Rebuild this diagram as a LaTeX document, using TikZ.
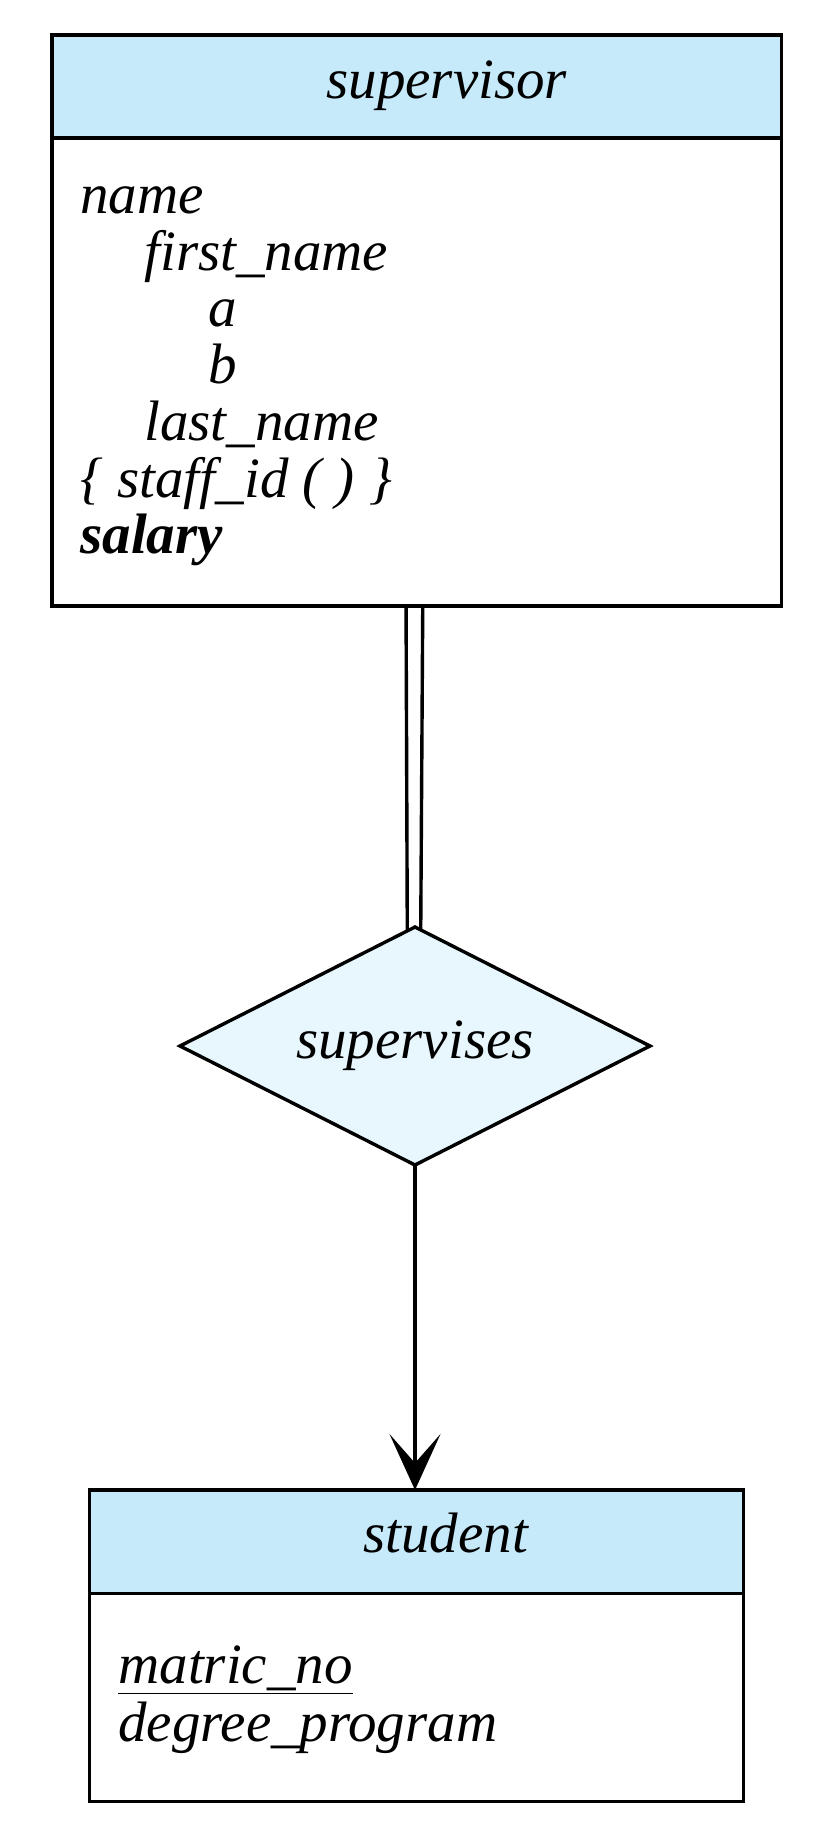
\documentclass[tikz,border=0pt]{standalone}
\usepackage{fontspec}
\setmainfont{Liberation Serif}
\usetikzlibrary{shapes.geometric,arrows.meta,calc,backgrounds}
\definecolor{hdrblue}{RGB}{198,234,250}
\definecolor{relblue}{RGB}{232,247,254}
\tikzset{
  box/.style={draw,line width=1.7pt,inner sep=0pt,outer sep=0pt},
  hdr/.style={box,fill=hdrblue},
  body/.style={box,fill=white},
  attr/.style={anchor=base west,inner sep=0pt,font=\fontsize{28.5}{34}\selectfont\itshape},
  ttl/.style={anchor=base,inner sep=0pt,font=\fontsize{28.5}{34}\selectfont\itshape},
}
\begin{document}
\begin{tikzpicture}[x=0.5pt,y=-0.5pt]
\useasboundingbox (0,0) rectangle (829,1833);
% supervisor
\node[hdr,minimum width=364.75pt,minimum height=51.5pt] (suphead) at (416.75,86.5) {};
\node[body,minimum width=364.75pt,minimum height=234pt,anchor=north] (supbody) at (suphead.south) {};
\node[ttl] (suptitle) at (446.7,98) {supervisor};
\foreach \l/\t [count=\i from 0] in {0/name,1/first\_name,2/a,2/b,1/last\_name,0/{\{ staff\_id ( ) \}},0/{\bfseries salary}}
  \node[attr] (att\i) at (80+64*\l,213.5+56.7*\i) {\t};
% relationship
\node[box,diamond,aspect=2,fill=relblue,minimum width=235pt,minimum height=119pt,font=\fontsize{28.5}{34}\selectfont\itshape] (supervises) at (415,1046) {supervises};
% student
\node[hdr,minimum width=327pt,minimum height=51.65pt] (stuhead) at (416.3,1541.65) {};
\node[body,minimum width=327pt,minimum height=104.2pt,anchor=north] (stubody) at (stuhead.south) {};
\node[ttl] (stutitle) at (445.6,1552) {student};
\node[attr] (matric) at (118,1683) {\underline{matric\_no}};
\node[attr] (degree) at (118,1741) {degree\_program};
% connectors
\begin{scope}[on background layer]
\draw[line width=1.7pt] ($(supbody.south)+(-10.7,0)$) -- ($(supervises.north)+(-7.7,8)$);
\draw[line width=1.7pt] ($(supbody.south)+(6,0)$) -- ($(supervises.north)+(5.7,8)$);
\end{scope}
\draw[line width=1.7pt,-{Stealth[length=28pt,width=25.5pt,inset=14.5pt]}] (supervises.south) -- (supervises.south |- stuhead.north);
\end{tikzpicture}
\end{document}
